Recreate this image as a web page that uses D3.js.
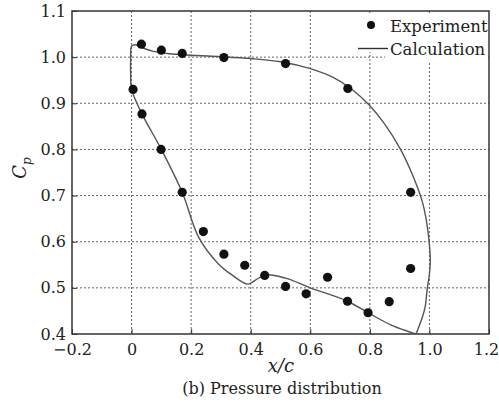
<!DOCTYPE html>
<html>
<head>
<meta charset="utf-8">
<script src="https://cdn.jsdelivr.net/npm/d3@7"></script>
<style>
  body { margin: 0; background: #fff; }
</style>
</head>
<body>
<div id="chart"></div>
<script>
// experiment points
const expX = [0.033, 0.10, 0.17, 0.31, 0.517, 0.726, 0.937,
  0.005, 0.035, 0.099, 0.17, 0.241, 0.31, 0.38, 0.447, 0.517, 0.586, 0.658, 0.725, 0.794, 0.865, 0.937]
const expY = [1.028, 1.015, 1.008, 0.999, 0.986, 0.932, 0.707,
  0.93, 0.877, 0.80, 0.707, 0.622, 0.573, 0.549, 0.527, 0.503, 0.487, 0.523, 0.471, 0.446, 0.47, 0.542]

// calculation, closed loop from trailing edge over the upper branch and back
const calcX = [0.955, 0.977, 0.986, 0.993, 1.0, 1.003, 0.999, 0.99, 0.976, 0.943, 0.903, 0.85, 0.797, 0.74, 0.68, 0.6,
  0.5, 0.4, 0.3, 0.2, 0.12, 0.07, 0.03, 0.012, 0.0, -0.003, -0.003, 0.0,
  0.035, 0.1, 0.17, 0.225, 0.29, 0.337, 0.39, 0.416, 0.45, 0.517, 0.6, 0.725, 0.794, 0.87, 0.955]
const calcY = [0.40, 0.438, 0.46, 0.50, 0.53, 0.56, 0.60, 0.645, 0.687, 0.745, 0.80, 0.855, 0.897, 0.93, 0.955, 0.975,
  0.99, 0.997, 1.001, 1.004, 1.008, 1.013, 1.022, 1.027, 1.024, 1.0, 0.96, 0.93,
  0.877, 0.80, 0.707, 0.61, 0.553, 0.528, 0.508, 0.517, 0.528, 0.521, 0.50, 0.471, 0.446, 0.42, 0.40]

const xTicks = [-0.2, 0, 0.2, 0.4, 0.6, 0.8, 1.0, 1.2]
const yTicks = [0.4, 0.5, 0.6, 0.7, 0.8, 0.9, 1.0, 1.1]

const width = 499
const height = 402
const margin = { top: 11, right: 10, bottom: 68, left: 72 }
const serif = 'DejaVu Serif'

const svg = d3.select('#chart')
  .append('svg')
  .attr('width', width)
  .attr('height', height)

const x = d3.scaleLinear().domain([-0.2, 1.2]).range([margin.left, width - margin.right])
const y = d3.scaleLinear().domain([0.4, 1.1]).range([height - margin.bottom, margin.top])

// grid
svg.append('g')
  .selectAll('line')
  .data(xTicks.slice(1, -1))
  .enter()
  .append('line')
  .attr('x1', d => x(d)).attr('x2', d => x(d))
  .attr('y1', y(1.1)).attr('y2', y(0.4))
  .style('stroke', '#666')
  .style('stroke-dasharray', '2,2')
svg.append('g')
  .selectAll('line')
  .data(yTicks.slice(1, -1))
  .enter()
  .append('line')
  .attr('y1', d => y(d)).attr('y2', d => y(d))
  .attr('x1', x(-0.2)).attr('x2', x(1.2))
  .style('stroke', '#666')
  .style('stroke-dasharray', '2,2')

// legend background hides the grid under it
svg.append('rect').attr('x', 362).attr('y', 14).attr('width', 126).attr('height', 38).style('fill', '#fff')
svg.append('rect').attr('x', 385).attr('y', 52).attr('width', 103).attr('height', 9).style('fill', '#fff')

// axes, ticks pointing inward
const fmtX = d => d === 0 ? '0' : d3.format('.1f')(d)
const xAxis = svg.append('g')
  .attr('transform', `translate(0,${y(0.4)})`)
  .call(d3.axisBottom(x).tickValues(xTicks).tickFormat(fmtX).tickSizeInner(-5).tickSizeOuter(0).tickPadding(10))
const yAxis = svg.append('g')
  .attr('transform', `translate(${x(-0.2)},0)`)
  .call(d3.axisLeft(y).tickValues(yTicks).tickFormat(d3.format('.1f')).tickSizeInner(-5).tickSizeOuter(0).tickPadding(6))
;[xAxis, yAxis].forEach(g => {
  g.attr('font-family', serif).attr('font-size', 16)
  g.selectAll('text').style('fill', '#222')
  g.selectAll('line').style('stroke', '#333')
  g.select('.domain').remove()
})
xAxis.selectAll('text').filter(d => d === 1.2).attr('dx', -3)

// frame
svg.append('rect')
  .attr('x', x(-0.2)).attr('y', y(1.1))
  .attr('width', x(1.2) - x(-0.2)).attr('height', y(0.4) - y(1.1))
  .style('fill', 'none')
  .style('stroke', '#333')
  .style('stroke-width', 1.5)

// calculation curve
const pts = calcX.map((v, i) => [v, calcY[i]])
svg.append('path')
  .datum(pts)
  .attr('d', d3.line().x(d => x(d[0])).y(d => y(d[1])).curve(d3.curveCatmullRom.alpha(0.5)))
  .style('fill', 'none')
  .style('stroke', '#555')
  .style('stroke-width', 1.4)

// experiment dots
svg.append('g')
  .selectAll('circle')
  .data(expX.map((v, i) => [v, expY[i]]))
  .enter()
  .append('circle')
  .attr('cx', d => x(d[0]))
  .attr('cy', d => y(d[1]))
  .attr('r', 4.6)
  .style('fill', '#111')

// legend
svg.append('circle').attr('cx', 371).attr('cy', 25).attr('r', 4).style('fill', '#111')
svg.append('text').attr('x', 390).attr('y', 32).text('Experiment')
  .attr('font-family', serif).style('font-size', '16.5px').style('fill', '#222')
svg.append('line').attr('x1', 358).attr('x2', 388).attr('y1', 48.5).attr('y2', 48.5)
  .style('stroke', '#333').style('stroke-width', 1.4)
svg.append('text').attr('x', 390).attr('y', 55).text('Calculation')
  .attr('font-family', serif).style('font-size', '16.5px').style('fill', '#222')

// labels
svg.append('text')
  .attr('transform', 'translate(26,168) rotate(-90)')
  .attr('text-anchor', 'middle')
  .attr('font-family', serif)
  .style('font-size', '18px').style('font-style', 'italic').style('fill', '#222')
  .html('C<tspan dy="5" font-size="12px">p</tspan>')
svg.append('text')
  .attr('x', 281).attr('y', 372)
  .attr('text-anchor', 'middle')
  .attr('font-family', serif)
  .style('font-size', '18px').style('font-style', 'italic').style('fill', '#222')
  .text('x/c')
svg.append('text')
  .attr('x', 282).attr('y', 394)
  .attr('text-anchor', 'middle')
  .attr('font-family', serif)
  .style('font-size', '16px').style('fill', '#222')
  .text('(b) Pressure distribution')
</script>
</body>
</html>
